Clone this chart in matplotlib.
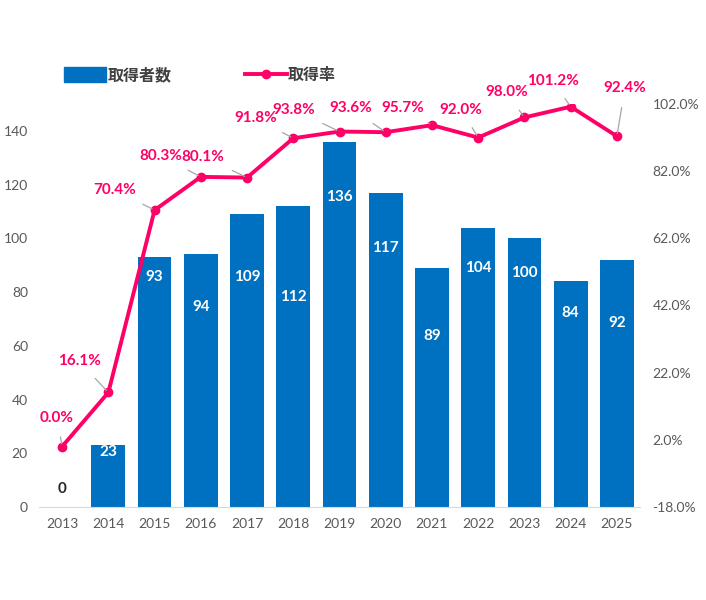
import numpy as np
import matplotlib as mpl
import matplotlib.pyplot as plt
from matplotlib.lines import Line2D
from matplotlib.patches import Patch

plt.rcParams['font.family'] = ['Lato', 'Noto Sans CJK JP', 'DejaVu Sans']

# data
years = ['2013', '2014', '2015', '2016', '2017', '2018', '2019',
         '2020', '2021', '2022', '2023', '2024', '2025']
holders = [0, 23, 93, 94, 109, 112, 136, 117, 89, 104, 100, 84, 92]
rate = [0.0, 16.1, 70.4, 80.3, 80.1, 91.8, 93.8, 93.6, 95.7, 92.0, 98.0, 101.2, 92.4]
bar_name = '取得者数'
line_name = '取得率'

# label placement (pixels), hand tuned like the original
bar_lab_off = [-18, 7, 20, 53, 63, 91, 55, 55, 68, 40, 35, 32, 63]
rate_lab_off = [(-5, 29), (-29, 31), (-40, 20), (-40, 21), (-44, 21), (-38, 20),
                (-46, 22), (-35, 24), (-29, 17), (-17, 28), (-18, 25), (-18, 26),
                (8, 48)]

blue = '#0070C0'
pink = '#FF0066'
grey = '#595959'

fig = plt.figure(figsize=(7.06, 6.0), dpi=100)
ax = fig.add_axes([39 / 706, 93 / 600, 601 / 706, 403 / 600])
ax2 = ax.twinx()

x = np.arange(len(years))
ax.bar(x, holders, width=0.73, color=blue, zorder=2)
ax.set_xlim(-0.5, len(years) - 0.5)
ax.set_ylim(0, 150)
ax.set_yticks(np.arange(0, 141, 20))
ax.set_xticks(x)
ax.set_xticklabels(years)

for i, v in enumerate(holders):
    col = 'white' if v > 0 else '#262626'
    ax.annotate(str(v), (x[i], v), xytext=(0, -bar_lab_off[i]), textcoords='offset pixels',
                ha='center', va='center', color=col, fontsize=11, fontweight='bold')

ax2.plot(x, rate, color=pink, lw=2.8, marker='o', ms=6, zorder=3)
ax2.set_ylim(-18, 102)
ax2.set_yticks(np.arange(-18, 103, 20))
ax2.set_yticklabels(['%.1f%%' % t for t in np.arange(-18, 103, 20)])

for i, r in enumerate(rate):
    ax2.annotate('%.1f%%' % r, (x[i], r), xytext=rate_lab_off[i], textcoords='offset pixels',
                 ha='center', va='center', color=pink, fontsize=11, fontweight='bold',
                 arrowprops=dict(arrowstyle='-', color='#A6A6A6', lw=0.9,
                                 shrinkA=7, shrinkB=2))

for a in (ax, ax2):
    for s in a.spines.values():
        s.set_visible(False)
    a.tick_params(length=0, colors=grey, labelsize=10)
ax.spines['bottom'].set_visible(True)
ax.spines['bottom'].set_color('#D9D9D9')
ax.tick_params(axis='x', pad=8)
ax.tick_params(axis='y', pad=8)
ax2.tick_params(axis='y', pad=9)

handles = [Patch(facecolor=blue, edgecolor=blue),
           Line2D([0], [0], color=pink, lw=2.8, marker='o', ms=6)]
leg = fig.legend(handles, [bar_name, line_name], ncol=2, loc='center left',
                 bbox_to_anchor=(50 / 706, 1 - 75 / 600), frameon=False,
                 handlelength=2.6, handleheight=1.0, columnspacing=4.6, handletextpad=0.1,
                 prop={'size': 11.5, 'weight': 'bold'})
for t in leg.get_texts():
    t.set_color('#404040')

fig.savefig('out.png', dpi=100)
